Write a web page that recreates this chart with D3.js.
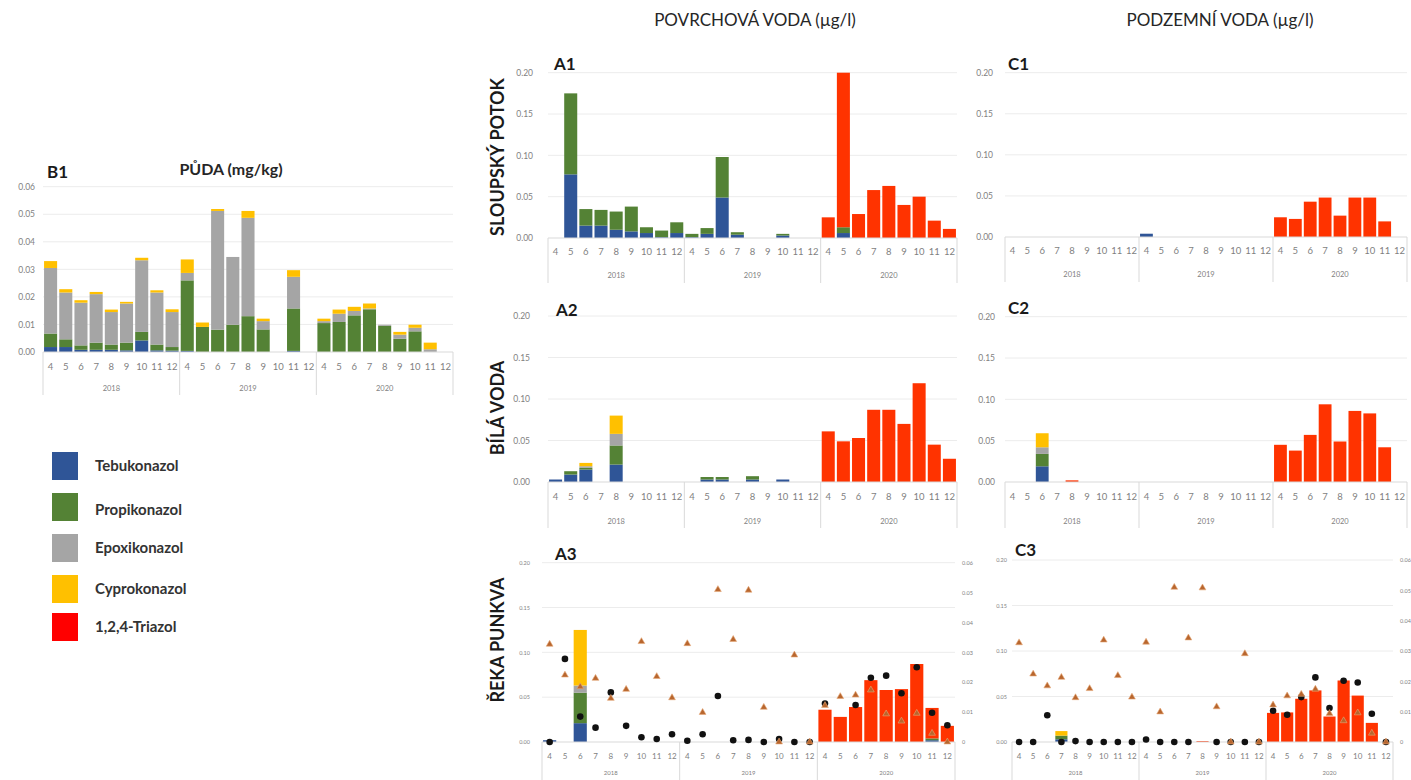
<!DOCTYPE html>
<html>
<head>
<meta charset="utf-8">
<script src="https://cdn.jsdelivr.net/npm/d3@7"></script>
<style>
  body { margin: 0; background: #fff; }
  text { font-family: Lato, "Open Sans", sans-serif; }
</style>
</head>
<body>
<div id="chart"></div>
<script>
// categories: months 4..12 for each year
var years = ["2018", "2019", "2020"];
var months = ["4", "5", "6", "7", "8", "9", "10", "11", "12"];
var cats = [];
years.forEach(function(y){ months.forEach(function(m){ cats.push(y + "-" + m); }); });

var compounds = ["Tebukonazol", "Propikonazol", "Epoxikonazol", "Cyprokonazol", "1,2,4-Triazol"];
var colors = ["#2f5597", "#548235", "#a5a5a5", "#ffc000", "#ff3300"];
var legendColors = ["#2f5597", "#548235", "#a5a5a5", "#ffc000", "#ff0000"];

var soilTicks = [0, 0.01, 0.02, 0.03, 0.04, 0.05, 0.06];
var waterTicks = [0, 0.05, 0.10, 0.15, 0.20];
var auxTicks = [0, 0.01, 0.02, 0.03, 0.04, 0.05, 0.06];

// B1 - soil (mg/kg)
var b1Tebu   = [0.0018,0.0018,0.0008,0.0008,0.0008,0.0006,0.0042,0.0006,0.0005, 0.0004,0,0,0,0,0,0,0.0004,0, 0,0,0,0,0,0,0,0,0];
var b1Propi  = [0.0049,0.0028,0.0016,0.0026,0.0019,0.0028,0.0031,0.0021,0.0013, 0.0256,0.0091,0.0081,0.0099,0.013,0.0082,0,0.0154,0, 0.0105,0.0109,0.0133,0.0155,0.0095,0.0048,0.0075,0,0];
var b1Epoxi  = [0.0238,0.017,0.0155,0.0176,0.0118,0.0142,0.026,0.0189,0.0127, 0.0027,0,0.0431,0.0246,0.0357,0.003,0,0.0115,0, 0.0007,0.003,0.0016,0.0003,0.0004,0.0015,0.0013,0.001,0];
var b1Cypro  = [0.0025,0.0012,0.0009,0.0008,0.0009,0.0006,0.0009,0.0008,0.001, 0.0049,0.0016,0.0007,0,0.0025,0.0009,0,0.0024,0, 0.0009,0.0015,0.0015,0.0018,0,0.001,0.0011,0.0024,0];

// A1 - Sloupský potok, surface water
var a1Tebu    = [0,0.077,0.015,0.015,0.010,0.008,0.006,0.001,0.006, 0.001,0.005,0.049,0.004,0,0,0.003,0,0, 0,0.006,0,0,0,0,0,0,0];
var a1Propi   = [0,0.098,0.020,0.019,0.022,0.030,0.007,0.008,0.013, 0.004,0.007,0.049,0.003,0,0,0.002,0,0, 0,0.007,0,0,0,0,0,0,0];
var a1Triazol = [0,0,0,0,0,0,0,0,0, 0,0,0,0,0,0,0,0,0, 0.025,0.187,0.029,0.058,0.063,0.040,0.050,0.021,0.011];

// C1 - Sloupský potok, ground water
var c1Tebu    = [0,0,0,0,0,0,0,0,0, 0.004,0,0,0,0,0,0,0,0, 0,0,0,0,0,0,0,0,0];
var c1Triazol = [0,0,0,0,0,0,0,0,0, 0,0,0,0,0,0,0,0,0, 0.024,0.022,0.043,0.048,0.026,0.048,0.048,0.019,0];

// A2 - Bílá voda, surface water
var a2Tebu    = [0.003,0.009,0.015,0,0.021,0,0,0,0, 0,0.003,0.003,0,0.003,0,0.003,0,0, 0,0,0,0,0,0,0,0,0];
var a2Propi   = [0,0.004,0.002,0,0.023,0,0,0,0, 0,0.003,0.003,0,0.004,0,0,0,0, 0,0,0,0,0,0,0,0,0];
var a2Epoxi   = [0,0,0.002,0,0.014,0,0,0,0, 0,0,0,0,0,0,0,0,0, 0,0,0,0,0,0,0,0,0];
var a2Cypro   = [0,0,0.004,0,0.022,0,0,0,0, 0,0,0,0,0,0,0,0,0, 0,0,0,0,0,0,0,0,0];
var a2Triazol = [0,0,0,0,0,0,0,0,0, 0,0,0,0,0,0,0,0,0, 0.061,0.049,0.053,0.087,0.087,0.070,0.119,0.045,0.028];

// C2 - Bílá voda, ground water
var c2Tebu    = [0,0,0.019,0,0,0,0,0,0, 0,0,0,0,0,0,0,0,0, 0,0,0,0,0,0,0,0,0];
var c2Propi   = [0,0,0.015,0,0,0,0,0,0, 0,0,0,0,0,0,0,0,0, 0,0,0,0,0,0,0,0,0];
var c2Epoxi   = [0,0,0.008,0,0,0,0,0,0, 0,0,0,0,0,0,0,0,0, 0,0,0,0,0,0,0,0,0];
var c2Cypro   = [0,0,0.017,0,0,0,0,0,0, 0,0,0,0,0,0,0,0,0, 0,0,0,0,0,0,0,0,0];
var c2Triazol = [0,0,0,0,0.002,0,0,0,0, 0,0,0,0,0,0,0,0,0, 0.045,0.038,0.057,0.094,0.049,0.086,0.083,0.042,0];

// A3 - Řeka Punkva, surface water
var a3Tebu    = [0.002,0,0.021,0,0,0,0,0,0, 0,0,0,0,0,0,0,0,0, 0,0,0,0,0,0,0,0.002,0];
var a3Propi   = [0,0,0.034,0,0,0,0,0,0, 0,0,0,0,0,0,0,0,0, 0,0,0,0,0,0,0,0.002,0];
var a3Epoxi   = [0,0,0.008,0,0,0,0,0,0, 0,0,0,0,0,0,0,0,0, 0,0,0,0,0,0,0,0,0];
var a3Cypro   = [0,0,0.062,0,0,0,0,0,0, 0,0,0,0,0,0,0,0,0, 0,0,0,0,0,0,0,0,0];
var a3Triazol = [0,0,0,0,0,0,0,0,0, 0,0,0,0,0,0,0,0,0, 0.036,0.028,0.039,0.069,0.058,0.059,0.087,0.034,0.018];
var a3Dots    = [0,0.0278,0.0085,0.0048,0.0166,0.0054,0.0016,0.001,0.0026, 0.0004,0.0026,0.0154,0.0006,0.0007,0,0.001,0,0, 0.0129,null,0.0124,0.0215,0.0222,0.0163,0.025,0.0098,0.0056];

// C3 - Řeka Punkva, ground water
var c3Tebu    = [0,0,0,0.003,0,0,0,0,0, 0,0,0,0,0,0,0,0,0, 0,0,0,0,0,0,0,0,0];
var c3Propi   = [0,0,0,0.004,0,0,0,0,0, 0,0,0,0,0,0,0,0,0, 0,0,0,0,0,0,0,0,0];
var c3Cypro   = [0,0,0,0.005,0,0,0,0,0, 0,0,0,0,0,0,0,0,0, 0,0,0,0,0,0,0,0,0];
var c3Triazol = [0,0,0,0,0,0,0,0,0, 0,0,0,0,0.001,0,0,0,0, 0.032,0.0325,0.0475,0.0567,0.028,0.0676,0.051,0.021,0];
var c3Dots    = [0,0,0.0088,0,0.0003,0,0,0,0, 0.0008,0,0,0,null,0,0,0,0, 0.0103,0.009,0.0148,0.0213,0.0112,0.0202,0.0196,0.0093,0];

// shared triangle series (secondary axis) for A3 and C3
var triangles = [0.0327,0.0224,0.0185,0.0213,0.0146,0.0176,0.0336,0.0219,0.0148, 0.0329,0.0099,0.051,0.0343,0.0508,0.0116,0,0.0291,0, 0.0122,0.0152,0.0157,0.0174,0.0094,0.007,0.0096,0.0029,0];

var W = 1411, H = 780;
var svg = d3.select("#chart").append("svg")
    .attr("width", W)
    .attr("height", H);
svg.append("rect").attr("width", W).attr("height", H).attr("fill", "#fff");

var fmt2 = d3.format(".2f");

// panel layout
var panels = [
  { label: "B1", lx: 47, ly: 178, series: [b1Tebu, b1Propi, b1Epoxi, b1Cypro, null],
    x0: 43, x1: 453, y0: 352, y1: 186.7, max: 0.06, ticks: soilTicks, tickX: 35, tickFont: 8.5,
    monthDy: 15, yearDy: 36, sepDy: 43, monthFont: 9.5, yearFont: 7.5 },
  { label: "A1", lx: 554, ly: 70, series: [a1Tebu, a1Propi, null, null, a1Triazol],
    x0: 548, x1: 957, y0: 238, y1: 72.7, max: 0.20, ticks: waterTicks, tickX: 533, tickFont: 8.5,
    monthDy: 14, yearDy: 37, sepDy: 45, monthFont: 9.5, yearFont: 7.5 },
  { label: "C1", lx: 1008, ly: 70, series: [c1Tebu, null, null, null, c1Triazol],
    x0: 1005, x1: 1407, y0: 237, y1: 72.7, max: 0.20, ticks: waterTicks, tickX: 993, tickFont: 8.5,
    monthDy: 14, yearDy: 37, sepDy: 45, monthFont: 9.5, yearFont: 7.5 },
  { label: "A2", lx: 556, ly: 316, series: [a2Tebu, a2Propi, a2Epoxi, a2Cypro, a2Triazol],
    x0: 548, x1: 957, y0: 482, y1: 316, max: 0.20, ticks: waterTicks, tickX: 530, tickFont: 8.5,
    monthDy: 15, yearDy: 39, sepDy: 46, monthFont: 9.5, yearFont: 7.5 },
  { label: "C2", lx: 1008, ly: 314, series: [c2Tebu, c2Propi, c2Epoxi, c2Cypro, c2Triazol],
    x0: 1005, x1: 1407, y0: 482, y1: 316.7, max: 0.20, ticks: waterTicks, tickX: 995, tickFont: 8.5,
    monthDy: 15, yearDy: 39, sepDy: 46, monthFont: 9.5, yearFont: 7.5 },
  { label: "A3", lx: 555, ly: 560, series: [a3Tebu, a3Propi, a3Epoxi, a3Cypro, a3Triazol],
    x0: 542, x1: 955, y0: 742, y1: 562.7, max: 0.20, ticks: waterTicks, tickX: 530, tickFont: 5.5,
    monthDy: 14, yearDy: 31, sepDy: 38, monthFont: 8, yearFont: 6,
    dots: a3Dots, tri: triangles, auxX: 962 },
  { label: "C3", lx: 1015, ly: 556, series: [c3Tebu, c3Propi, null, c3Cypro, c3Triazol],
    x0: 1012, x1: 1393, y0: 742, y1: 560, max: 0.20, ticks: waterTicks, tickX: 1007, tickFont: 5.5,
    monthDy: 14, yearDy: 31, sepDy: 38, monthFont: 8, yearFont: 6,
    dots: c3Dots, tri: triangles, auxX: 1400 }
];

panels.forEach(drawPanel);

function drawPanel(p) {
  var g = svg.append("g");

  var rows = cats.map(function(c, i) {
    var r = { cat: c };
    compounds.forEach(function(k, j) { r[k] = p.series[j] ? p.series[j][i] : 0; });
    return r;
  });

  var x = d3.scaleBand().domain(cats).range([p.x0, p.x1]).paddingInner(0.14).paddingOuter(0.07);
  var y = d3.scaleLinear().domain([0, p.max]).range([p.y0, p.y1]);

  // gridlines
  g.selectAll(".grid").data(p.ticks.filter(function(t){ return t > 0; }))
    .join("line")
      .attr("x1", p.x0).attr("x2", p.x1)
      .attr("y1", function(d){ return y(d); })
      .attr("y2", function(d){ return y(d); })
      .attr("stroke", "#ececec").attr("stroke-width", 1);

  // y axis labels
  var yAxis = g.append("g")
      .attr("transform", "translate(" + p.tickX + ",0)")
      .call(d3.axisLeft(y).tickValues(p.ticks).tickFormat(fmt2).tickSize(0).tickPadding(0));
  yAxis.select(".domain").remove();
  yAxis.selectAll("text").attr("fill", "#7f7f7f").style("font-size", p.tickFont + "px");

  // stacked bars
  var stack = d3.stack().keys(compounds)(rows);
  g.selectAll(".layer").data(stack).join("g")
      .attr("fill", function(d, i){ return colors[i]; })
    .selectAll("rect").data(function(d){ return d; }).join("rect")
      .attr("x", function(d){ return x(d.data.cat); })
      .attr("width", x.bandwidth())
      .attr("y", function(d){ return y(d[1]); })
      .attr("height", function(d){ return Math.max(0, y(d[0]) - y(d[1])); });

  // baseline
  g.append("line")
      .attr("x1", p.x0).attr("x2", p.x1)
      .attr("y1", p.y0).attr("y2", p.y0)
      .attr("stroke", "#d9d9d9");

  // month labels
  var xAxis = g.append("g")
      .attr("transform", "translate(0," + (p.y0 + p.monthDy) + ")")
      .call(d3.axisBottom(x).tickSize(0).tickPadding(0)
        .tickFormat(function(d){ return d.split("-")[1]; }));
  xAxis.select(".domain").remove();
  xAxis.selectAll("text").attr("fill", "#7f7f7f").attr("dy", "0.35em")
      .style("font-size", p.monthFont + "px");

  // year groups
  var step = x.step();
  g.selectAll(".sep").data(d3.range(years.length + 1)).join("line")
      .attr("x1", function(i){ return p.x0 + i * months.length * step; })
      .attr("x2", function(i){ return p.x0 + i * months.length * step; })
      .attr("y1", p.y0).attr("y2", p.y0 + p.sepDy)
      .attr("stroke", "#d9d9d9");
  g.selectAll(".yr").data(years).join("text")
      .attr("x", function(d, i){ return p.x0 + (i + 0.5) * months.length * step; })
      .attr("y", p.y0 + p.yearDy)
      .attr("dy", "0.35em")
      .attr("text-anchor", "middle")
      .attr("fill", "#7f7f7f")
      .style("font-size", p.yearFont + "px")
      .text(function(d){ return d; });

  // secondary axis with dots and triangles
  if (p.dots) {
    var y2 = d3.scaleLinear().domain([0, 0.06]).range([p.y0, p.y1]);
    var ax2 = g.append("g")
        .attr("transform", "translate(" + p.auxX + ",0)")
        .call(d3.axisRight(y2).tickValues(auxTicks).tickSize(0).tickPadding(0)
          .tickFormat(function(d){ return d === 0 ? "0" : fmt2(d); }));
    ax2.select(".domain").remove();
    ax2.selectAll("text").attr("fill", "#7f7f7f").style("font-size", "5.5px");

    var cx = function(i){ return x(cats[i]) + x.bandwidth() / 2; };
    var dotPts = p.dots.map(function(v, i){ return { v: v, i: i }; })
        .filter(function(d){ return d.v !== null; });
    g.selectAll(".dot").data(dotPts).join("circle")
        .attr("cx", function(d){ return cx(d.i); })
        .attr("cy", function(d){ return y2(d.v); })
        .attr("r", 3.3)
        .attr("fill", "#111");
    var tri = d3.symbol().type(d3.symbolTriangle).size(20);
    g.selectAll(".tri").data(p.tri).join("path")
        .attr("d", tri)
        .attr("transform", function(d, i){ return "translate(" + cx(i) + "," + y2(d) + ")"; })
        .attr("fill", "#b8662e")
        .attr("stroke", "#e6a877")
        .attr("stroke-width", 0.6);
  }

  // panel label
  svg.append("text")
      .attr("x", p.lx).attr("y", p.ly)
      .attr("font-weight", "bold")
      .style("font-size", "17px")
      .attr("fill", "#1a1a1a")
      .text(p.label);
}

// column titles
svg.append("text").attr("x", 755).attr("y", 26).attr("text-anchor", "middle")
    .style("font-size", "17px").attr("fill", "#262626").text("POVRCHOVÁ VODA (µg/l)");
svg.append("text").attr("x", 1220).attr("y", 26).attr("text-anchor", "middle")
    .style("font-size", "17px").attr("fill", "#262626").text("PODZEMNÍ VODA (µg/l)");
svg.append("text").attr("x", 231).attr("y", 175).attr("text-anchor", "middle")
    .attr("font-weight", "bold").style("font-size", "16px").attr("fill", "#262626")
    .text("PŮDA (mg/kg)");

// row titles
var rowTitles = [
  { t: "SLOUPSKÝ POTOK", cy: 157 },
  { t: "BÍLÁ VODA", cy: 408 },
  { t: "ŘEKA PUNKVA", cy: 640 }
];
rowTitles.forEach(function(r) {
  svg.append("text")
      .attr("transform", "translate(504," + r.cy + ") rotate(-90)")
      .attr("text-anchor", "middle")
      .attr("font-weight", "bold")
      .style("font-size", "18px")
      .attr("fill", "#1a1a1a")
      .text(r.t);
});

// legend
var legendY = [452, 493, 534, 575, 613];
var legend = svg.append("g");
compounds.forEach(function(c, i) {
  legend.append("rect")
      .attr("x", 52).attr("y", legendY[i])
      .attr("width", 26).attr("height", 28)
      .attr("fill", legendColors[i]);
  legend.append("text")
      .attr("x", 95).attr("y", legendY[i] + 14 + (i === 1 ? 3 : 0))
      .attr("dy", "0.35em")
      .attr("font-weight", "bold")
      .style("font-size", "15px")
      .attr("fill", "#333")
      .text(c);
});
</script>
</body>
</html>
